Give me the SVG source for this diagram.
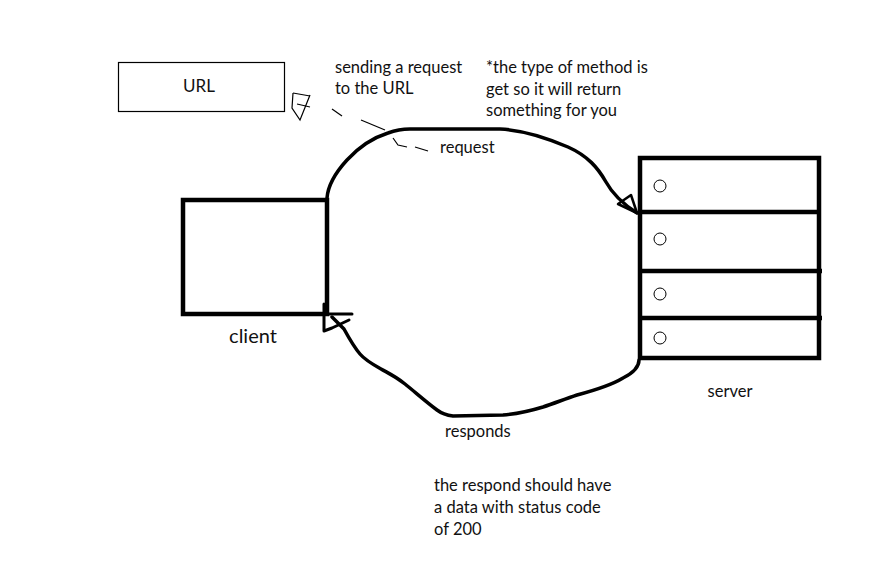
<svg xmlns="http://www.w3.org/2000/svg" width="896" height="580" viewBox="0 0 896 580">
<style>
.t{font-family:Lato,"Liberation Sans",sans-serif;font-size:16.5px;fill:#111}
.thick{fill:none;stroke:#000;stroke-width:4.5}
.pen{fill:none;stroke:#000;stroke-width:3.5;stroke-linejoin:round;stroke-linecap:round}
.thin{fill:none;stroke:#000;stroke-width:1.2}
.dot{fill:none;stroke:#000;stroke-width:1}
</style>
<rect width="896" height="580" fill="#fff"/>
<g id="url">
<rect x="118.5" y="62.5" width="166" height="49" class="thin"/>
<text x="199" y="92" class="t" style="font-size:17px" text-anchor="middle">URL</text>
</g>
<g id="client">
<rect x="183" y="200" width="144" height="114" class="thick"/>
<text x="253" y="343" class="t" style="font-size:20px" text-anchor="middle">client</text>
</g>
<g id="server">
<rect x="640" y="158" width="179" height="200" class="thick"/>
<line x1="640" y1="212" x2="819" y2="212" class="thick"/>
<line x1="640" y1="271" x2="822" y2="271" class="thick"/>
<line x1="638" y1="318" x2="822" y2="318" class="thick"/>
<circle cx="660" cy="186" r="6" class="dot"/>
<circle cx="660" cy="239" r="6" class="dot"/>
<circle cx="660" cy="294" r="6" class="dot"/>
<circle cx="660" cy="338" r="6" class="dot"/>
<text x="730" y="397" class="t" text-anchor="middle">server</text>
</g>
<g id="connectors">
<path class="pen" d="M327 198 C328 185 336 172 347 160 C358 148 372 138 388 133 C396 130 402 129 410 129 L500 129 C520 130 545 137 568 147 C588 156 598 168 606 182 C612 193 620 202 637 213"/>
<path class="pen" d="M618 204 L631 195 L637 213 Z" style="stroke-width:2.5"/>
<path class="pen" d="M639 360 C639 367 633 373 623 378 C610 386 592 391 577 395 C565 399 555 403 543 407 C530 411 515 414 503 415 L453 416 C445 415 441 413 437 410 C425 401 415 392 405 384 C395 376 388 373 381 369 C372 364 365 360 360 354 C354 347 350 340 344 329 L332 317"/>
<path class="pen" d="M324 314 L352 314 M324 304 L324 331 L332 328 L349 320" style="stroke-width:3"/>
<g class="thin">
<path d="M293 93 L292 108 L300 120 L310 95"/>
<path d="M293 93 L310 96"/>
<path d="M297 104 L310 107"/>
<path d="M332 109 L342 116"/>
<path d="M361 120 L373 125 L385 130"/>
<path d="M393 138 L398 145 L407 147"/>
<path d="M415 147 L428 151"/>
</g>
</g>
<g id="labels">
<text x="335" y="73" class="t">sending a request</text>
<text x="335" y="94" class="t">to the URL</text>
<text x="486" y="73" class="t">*the type of method is</text>
<text x="486" y="95" class="t">get so it will return</text>
<text x="486" y="116" class="t">something for you</text>
<text x="440" y="153" class="t">request</text>
<text x="445" y="437" class="t">responds</text>
<text x="434" y="491" class="t">the respond should have</text>
<text x="434" y="513" class="t">a data with status code</text>
<text x="434" y="535" class="t">of 200</text>
</g>
</svg>
